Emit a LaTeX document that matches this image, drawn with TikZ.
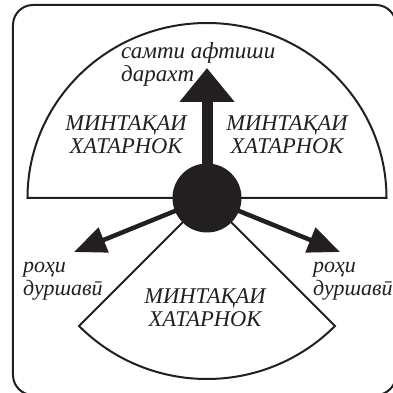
\documentclass[tikz,border=0pt]{standalone}
\usepackage{fontspec}
\setmainfont{Liberation Serif}
\usepackage{tikz}
\usetikzlibrary{arrows.meta,positioning,calc}
\definecolor{vink}{HTML}{231F20}
\tikzset{
  rim/.style={draw=vink,line width=2pt,fill=white},
  outer/.style={draw=vink,line width=2pt,rounded corners=20pt},
  hubdot/.style={circle,fill=vink,minimum size=69pt,inner sep=0pt},
  zonetxt/.style={font=\fontsize{22.5}{23}\selectfont\itshape,align=center,text=vink,inner sep=0pt},
  lbl/.style={font=\fontsize{22}{23}\selectfont\itshape,align=left,text=vink,inner sep=0pt},
  bigarr/.style={-{Triangle[length=34pt,width=53pt]},line width=11pt,draw=vink,shorten <=-3pt},
  arr/.style={-{Triangle[length=32pt,width=26pt]},line width=4.5pt,draw=vink,shorten <=-3pt},
}

\begin{document}
\begin{tikzpicture}[x=1pt,y=1pt]
  \useasboundingbox (-207,-195) rectangle (186,198);
  \draw[outer] (-194,193) rectangle (189,-197);
  % zones
  \draw[rim] (-179.5,0) arc[start angle=180,end angle=0,x radius=179.5,y radius=175] -- cycle;
  \draw[rim] (0,0) -- (225:181) arc[start angle=225,end angle=315,radius=181] -- cycle;
  \node[hubdot] (hub) at (0,0) {};
  % directions
  \coordinate (up) at (0,130);
  \coordinate (lt) at (-133,-54);
  \coordinate (rt) at (133,-54);
  \draw[bigarr] (hub) -- (up);
  \draw[arr] (hub) -- (lt);
  \draw[arr] (hub) -- (rt);
  % labels
  \node[lbl,font=\fontsize{23}{23}\selectfont\itshape,anchor=west] (dir) at (-86,134) {самти афтиши\\дарахт};
  \node[zonetxt] (zl) at (-81,63) {МИНТАҚАИ\\ХАТАРНОК};
  \node[zonetxt] (zr) at (80,63) {МИНТАҚАИ\\ХАТАРНОК};
  \node[zonetxt] (zb) at (-2,-110) {МИНТАҚАИ\\ХАТАРНОК};
  \node[lbl,anchor=west] (el) at (-184,-83) {роҳи\\дуршавӣ};
  \node[lbl,anchor=west] (er) at (106,-83) {роҳи\\дуршавӣ};
\end{tikzpicture}
\end{document}
